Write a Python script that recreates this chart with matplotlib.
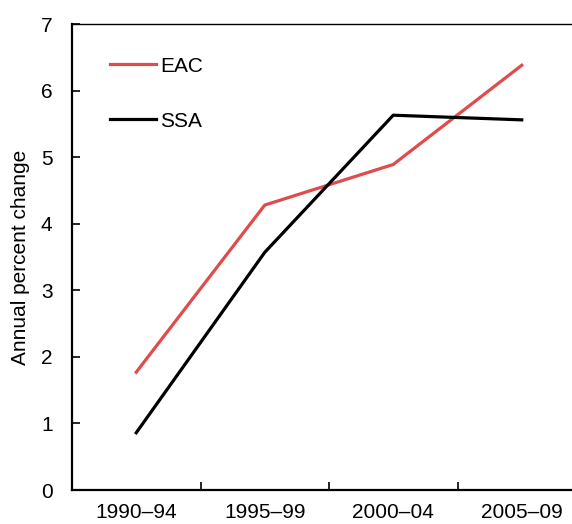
import matplotlib.pyplot as plt
import numpy as np

plt.rcParams['font.family'] = ['Liberation Sans Narrow', 'Liberation Sans', 'DejaVu Sans']

periods = ['1990–94', '1995–99', '2000–04', '2005–09']
eac = [1.77, 4.28, 4.89, 6.38]
ssa = [0.86, 3.57, 5.63, 5.56]

fig = plt.figure(figsize=(5.72, 5.24), dpi=100)
# axes run past the right edge, as in the cropped original
ax = fig.add_axes([72 / 572, 34 / 524, 514 / 572, 466 / 524])

x = np.arange(len(periods))
ax.plot(x, eac, color='#e04b4b', linewidth=2.3, label='EAC')
ax.plot(x, ssa, color='black', linewidth=2.3, label='SSA')

ax.set_xlim(-0.5, len(periods) - 0.5)
ax.set_ylim(0, 7)
ax.set_yticks(range(0, 8))
ax.set_xticks(x)
ax.set_xticklabels(periods)
ax.set_xticks(x[:-1] + 0.5, minor=True)
ax.tick_params(axis='x', which='major', length=0, pad=9, labelsize=15)
ax.tick_params(axis='x', which='minor', direction='in', length=6, width=1.2)
ax.tick_params(axis='y', direction='in', length=6, width=1.2, pad=14, labelsize=15)
ax.set_ylabel('Annual percent change', fontsize=15, labelpad=8)

ax.spines['left'].set_linewidth(1.6)
ax.spines['bottom'].set_linewidth(1.6)
ax.spines['top'].set_linewidth(1.0)
ax.spines['right'].set_visible(False)

ax.legend(loc='upper left', bbox_to_anchor=(0.037, 0.97), frameon=False,
          fontsize=15, handlelength=2.2, handletextpad=0.2, labelspacing=1.72)

fig.savefig('out.png', dpi=100)
